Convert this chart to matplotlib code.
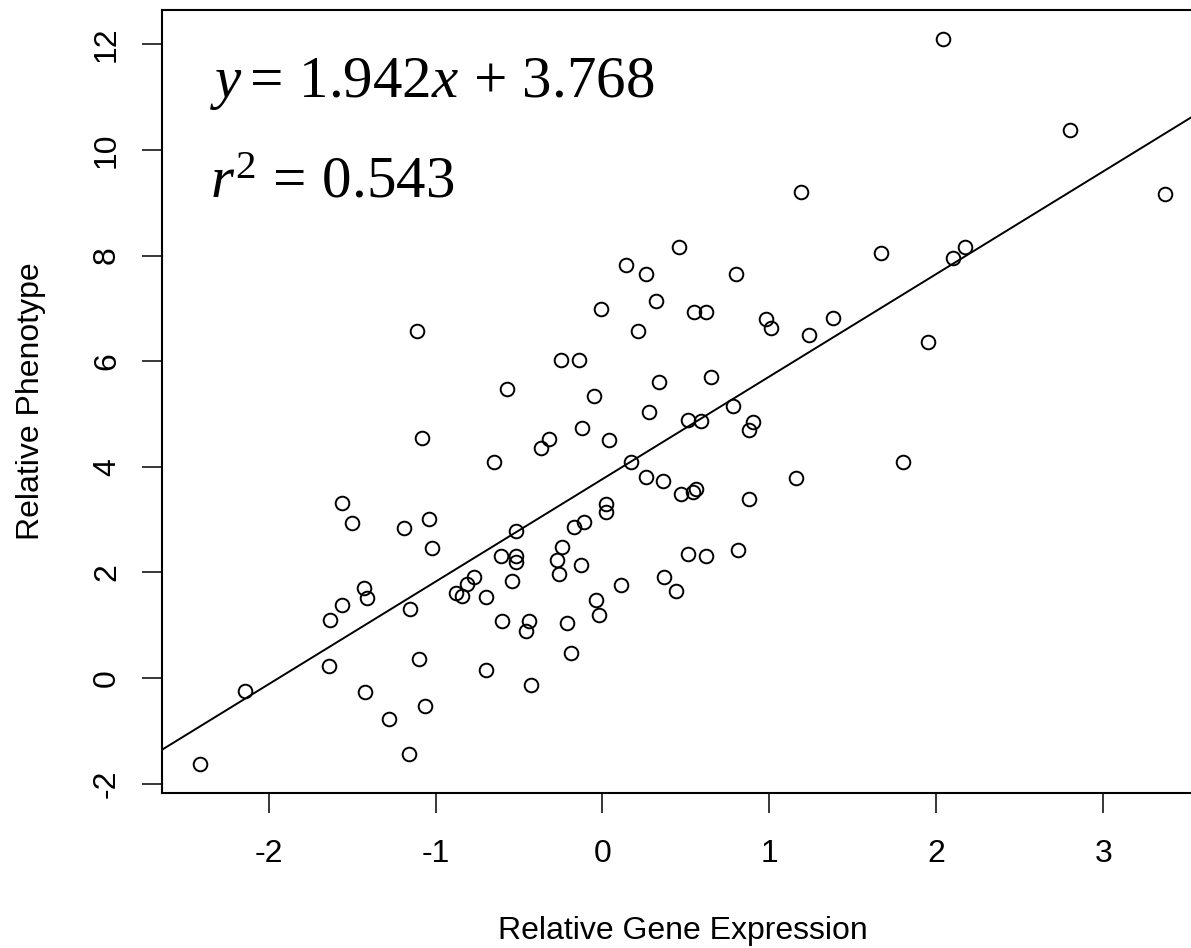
import numpy as np
import matplotlib
matplotlib.use('Agg')
import matplotlib.pyplot as plt

DPI = 100
FIG_SIZE = (11.91, 9.48)

plt.rcParams['font.family'] = ['Liberation Sans', 'DejaVu Sans']
plt.rcParams['axes.unicode_minus'] = False
plt.rcParams['mathtext.fontset'] = 'custom'
plt.rcParams['mathtext.rm'] = 'Liberation Serif'
plt.rcParams['mathtext.it'] = 'Liberation Serif:italic'

###############################################################################
# Data
gene_expr = [2.04, 2.80, 3.37, 1.19, 1.67, 2.17, 2.10, 1.95, 0.98, 1.01,
             1.24, 1.38, 0.90, 0.88, 1.80, 1.16, 0.88, 0.80, 0.46, 0.14,
             0.26, -0.01, 0.32, 0.55, 0.62, 0.21, -0.25, -0.14, -0.57, 0.34,
             0.65, -0.05, 0.28, -0.12, -0.32, -0.37, 0.04, -0.65, 0.17, 0.51,
             0.59, 0.78, 0.26, 0.36, 0.47, 0.54, 0.56, 0.02, 0.02, -0.11,
             -0.17, -0.52, -0.24, -0.61, -0.52, -0.52, -0.27, -0.13, -0.26, -0.77,
             -0.81, -0.88, -0.84, -0.70, -0.54, 0.11, -0.04, -0.02, 0.37, 0.44,
             0.51, 0.62, 0.81, -0.60, -0.44, -0.46, -0.21, -0.19, -0.70, -0.43,
             -1.50, -1.19, -1.04, -1.02, -1.43, -1.41, -1.56, -1.63, -1.15, -1.64,
             -2.14, -2.41, -1.10, -1.42, -1.06, -1.28, -1.16, -1.11, -1.08, -1.56]
phenotype = [12.10, 10.37, 9.17, 9.20, 8.04, 8.17, 7.96, 6.36, 6.79, 6.62,
             6.50, 6.81, 4.84, 4.70, 4.10, 3.78, 3.40, 7.65, 8.16, 7.82,
             7.66, 6.98, 7.14, 6.93, 6.93, 6.57, 6.02, 6.02, 5.47, 5.60,
             5.71, 5.34, 5.03, 4.73, 4.52, 4.36, 4.50, 4.09, 4.10, 4.89,
             4.86, 5.15, 3.80, 3.73, 3.48, 3.53, 3.58, 3.29, 3.15, 2.95,
             2.87, 2.79, 2.48, 2.32, 2.32, 2.20, 2.23, 2.15, 1.98, 1.91,
             1.79, 1.62, 1.56, 1.54, 1.83, 1.76, 1.48, 1.19, 1.91, 1.65,
             2.35, 2.32, 2.42, 1.09, 1.09, 0.90, 1.04, 0.48, 0.16, -0.13,
             2.94, 2.84, 3.02, 2.46, 1.71, 1.51, 1.38, 1.10, 1.30, 0.23,
             -0.25, -1.62, 0.37, -0.27, -0.52, -0.78, -1.44, 6.57, 4.55, 3.31]

slope = 1.942
intercept = 3.768
r_squared = 0.543

x_ticks = [-2, -1, 0, 1, 2, 3]
y_ticks = [-2, 0, 2, 4, 6, 8, 10, 12]

###############################################################################
# plot
W, H = 1191.0, 948.0
fig = plt.figure(figsize=FIG_SIZE, dpi=DPI)
# plot region in pixels (right edge runs past the image, as in the original)
left_px, right_px, top_px, bottom_px = 161.5, 1203.7, 10.0, 792.7
ax = fig.add_axes([left_px / W, 1 - bottom_px / H,
                   (right_px - left_px) / W, (bottom_px - top_px) / H])

ax.plot(gene_expr, phenotype, 'o', mfc='none', mec='black', ms=9.8, mew=1.4)
ax.margins(0.04)
ax.axline((0, intercept), slope=slope, color='black', lw=1.4)

ax.set_xticks(x_ticks)
ax.set_yticks(y_ticks)
for s in ax.spines.values():
    s.set_linewidth(1.5)
ax.tick_params(axis='both', direction='out', length=14.4, width=1.1,
               labelsize=23, colors='black')
ax.tick_params(axis='x', pad=19)
ax.tick_params(axis='y', pad=14)
plt.setp(ax.get_yticklabels(), rotation=90, va='center')

fig.text((left_px + right_px) / 2 / W, (H - 939.3) / H, 'Relative Gene Expression',
         ha='center', va='baseline', fontsize=23)
fig.text(39.5 / W, 1 - (top_px + bottom_px) / 2 / H, 'Relative Phenotype',
         ha='center', va='baseline', rotation=90, rotation_mode='anchor', fontsize=23)

fig.text(210 / W, (H - 97) / H, r'$y =\, %.3f x \,+\, %.3f$' % (slope, intercept),
         ha='left', va='baseline', fontsize=42.5)
fig.text(210 / W, (H - 197) / H, r'$r^{2}\, =\, %.3f$' % r_squared,
         ha='left', va='baseline', fontsize=42.5)

fig.savefig('out.png', dpi=DPI)
plt.close()
